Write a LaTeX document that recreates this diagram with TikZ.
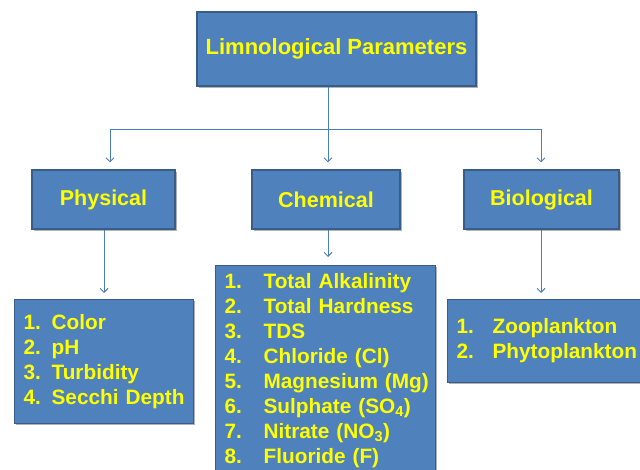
\documentclass[tikz,border=0pt]{standalone}
\usepackage{fontspec}
\setmainfont{Liberation Sans}
\usetikzlibrary{shadows,arrows.meta}
\definecolor{boxfill}{HTML}{4F81BD}
\definecolor{boxline}{HTML}{385D8A}
\definecolor{txt}{HTML}{FFFF00}
\definecolor{conncol}{HTML}{4A7EBB}
\tikzset{
  box/.style={draw=boxline, line width=1.2pt, fill=boxfill, text=txt,
    font=\bfseries, inner sep=0pt,
    drop shadow={shadow xshift=1.5pt, shadow yshift=-1.8pt, opacity=0.3, fill=black}},
  catbox/.style={box, minimum height=59pt, font=\fontsize{21.5}{25}\selectfont\bfseries},
  listbox/.style={box, anchor=north west, inner xsep=9pt, align=left,
    font=\fontsize{20.8}{25}\selectfont\bfseries},
  conn/.style={draw=conncol, line width=0.9pt},
  arr/.style={conn, -{Straight Barb[length=4pt,width=8pt]}}
}
\begin{document}
\begin{tikzpicture}[x=1pt,y=-1pt]
\useasboundingbox (0,0) rectangle (640,470);
% boxes
\node[box, minimum width=279pt, minimum height=74pt, font=\fontsize{22}{26}\selectfont\bfseries]
  (title) at (336.5,49) {Limnological Parameters};
\node[catbox, minimum width=143pt] (phys) at (103.5,199.5) {Physical};
\node[catbox, minimum width=148pt] (chem) at (326,199.5) {Chemical};
\node[catbox, minimum width=155pt] (bio) at (541.5,199.5) {Biological};
\node[listbox, minimum width=179pt, minimum height=124pt, text width=161pt] (physlist) at (14,299)
  {\begin{tabular}{@{}p{28pt}@{}l@{}}1.&Color\\2.&pH\\3.&Turbidity\\4.&Secchi Depth\end{tabular}};
\node[listbox, minimum width=220pt, minimum height=211pt, text width=202pt] (chemlist) at (215,265)
  {\begin{tabular}{@{}p{39pt}@{}l@{}}1.&Total Alkalinity\\2.&Total Hardness\\3.&TDS\\4.&Chloride (Cl)\\5.&Magnesium (Mg)\\6.&Sulphate (SO\textsubscript{4})\\7.&Nitrate (NO\textsubscript{3})\\8.&Fluoride (F)\end{tabular}};
\node[listbox, minimum width=210pt, minimum height=83pt, text width=192pt] (biolist) at (447,299)
  {\begin{tabular}{@{}p{36pt}@{}l@{}}1.&Zooplankton\\2.&Phytoplankton\end{tabular}};
% junction points
\coordinate (cx) at (328,129);
\coordinate (bl) at (110,129);
\coordinate (br) at (541,129);
\coordinate (pl) at (104,0);
% connectors
\draw[arr, shorten >=7pt] (title.south -| cx) -- (chem.north -| cx);
\draw[conn] (bl) -- (br);
\draw[arr, shorten >=7pt] (bl) -- (phys.north -| bl);
\draw[arr, shorten >=7pt] (br) -- (bio.north -| br);
\draw[arr, shorten >=6pt] (phys.south -| pl) -- (physlist.north -| pl);
\draw[arr, shorten >=8pt] (chem.south -| cx) -- (chemlist.north -| cx);
\draw[arr, shorten >=6pt] (bio.south -| br) -- (biolist.north -| br);
\end{tikzpicture}
\end{document}
